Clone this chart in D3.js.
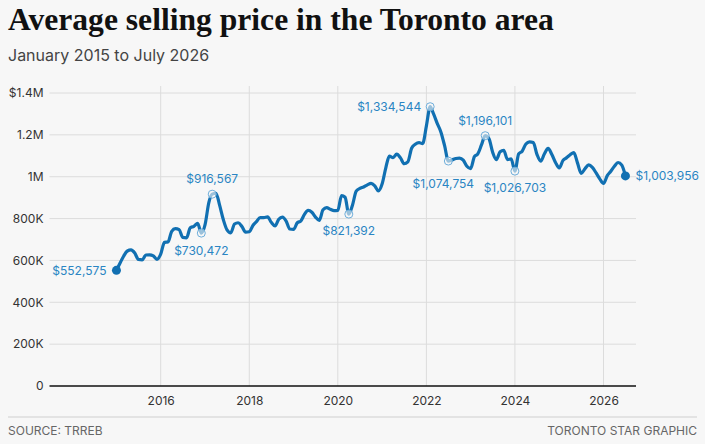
<!DOCTYPE html>
<html>
<head>
<meta charset="utf-8">
<script src="https://cdn.jsdelivr.net/npm/d3@7"></script>
<style>
body{margin:0;background:#f7f7f7;}
svg{display:block;font-family:Inter,"Noto Sans",sans-serif;}
</style>
</head>
<body>
<div id="chart"></div>
<script>
// average selling price, one value per month, Jan 2015 - Jul 2026
var price2015 = [552575, 589000, 620000, 645000, 650000, 635000, 605000, 603000, 626000, 627000, 622000, 605000];
var price2016 = [630000, 686000, 688000, 739000, 752000, 747000, 710000, 708000, 756000, 763000, 777000, 730472];
var price2017 = [771000, 876000, 916567, 921000, 864000, 794000, 746000, 732000, 774000, 780000, 762000, 735000];
var price2018 = [737000, 768000, 785000, 805000, 805000, 808000, 782000, 765000, 797000, 807000, 788000, 750000];
var price2019 = [748000, 780000, 788000, 820000, 839000, 830000, 807000, 791000, 842000, 852000, 844000, 838000];
var price2020 = [839000, 910000, 902000, 821392, 864000, 931000, 944000, 951000, 961000, 968000, 956000, 932000];
var price2021 = [966000, 1045000, 1098000, 1091000, 1108000, 1090000, 1062000, 1071000, 1136000, 1155000, 1163000, 1158000];
var price2022 = [1243000, 1334544, 1300000, 1254000, 1213000, 1146000, 1074754, 1080000, 1087000, 1089000, 1079000, 1050000];
var price2023 = [1039000, 1096000, 1109000, 1153000, 1196101, 1182000, 1118000, 1082000, 1119000, 1126000, 1082000, 1085000];
var price2024 = [1026703, 1109000, 1122000, 1156000, 1166000, 1163000, 1107000, 1074000, 1110000, 1135000, 1106000, 1068000];
var price2025 = [1042000, 1078000, 1090000, 1105000, 1115000, 1065000, 1016000, 1038000, 1057000, 1045000, 1018000, 990000];
var price2026 = [968000, 1005000, 1025000, 1050000, 1068000, 1055000, 1003956];

var yTicks = [0, 200000, 400000, 600000, 800000, 1000000, 1200000, 1400000];
var yTickLabels = ["0", "200K", "400K", "600K", "800K", "1M", "1.2M", "$1.4M"];
var xTickYears = [2016, 2018, 2020, 2022, 2024, 2026];
var labelledMonths = ["2015-01", "2016-12", "2017-03", "2020-04", "2022-02", "2022-07", "2023-05", "2024-01", "2026-07"];

var W = 705, H = 444;
var blue = "#1170b2", labelBlue = "#2a85c3";

var prices = [].concat(price2015, price2016, price2017, price2018, price2019, price2020,
	price2021, price2022, price2023, price2024, price2025, price2026);
var data = prices.map(function(v, i){
	return {date: new Date(2015, i, 1), value: v};
});
var fmtMonth = d3.timeFormat("%Y-%m");
var fmtPrice = d3.format("$,");

var x = d3.scaleTime()
	.domain([new Date(2016, 0, 1), new Date(2026, 0, 1)])
	.range([160.7, 603.5]);
var y = d3.scaleLinear().domain([0, 1400000]).range([386, 93]);
var plotLeft = 49.5, plotRight = 636;

var svg = d3.select("#chart").append("svg")
	.attr("width", W).attr("height", H);

svg.append("rect").attr("width", W).attr("height", H).attr("fill", "#f7f7f7");

// title block
svg.append("text")
	.attr("x", 8).attr("y", 30)
	.attr("font-family", "'Liberation Serif', serif")
	.attr("font-weight", "bold")
	.attr("font-size", 31.6)
	.attr("fill", "#111")
	.text("Average selling price in the Toronto area");
svg.append("text")
	.attr("x", 8).attr("y", 61)
	.attr("font-size", 16)
	.attr("fill", "#444")
	.text("January 2015 to July 2026");

// grid
var gridEl = svg.append("g").attr("class", "grid");
gridEl.selectAll(".hgrid").data(yTicks.slice(1)).enter()
	.append("line").attr("class", "hgrid")
	.attr("x1", plotLeft).attr("x2", plotRight)
	.attr("y1", function(d){ return y(d); })
	.attr("y2", function(d){ return y(d); })
	.attr("stroke", "#dcdcdc").attr("stroke-width", 1);
gridEl.selectAll(".vgrid").data(xTickYears).enter()
	.append("line").attr("class", "vgrid")
	.attr("x1", function(d){ return x(new Date(d, 0, 1)); })
	.attr("x2", function(d){ return x(new Date(d, 0, 1)); })
	.attr("y1", 86).attr("y2", y(0))
	.attr("stroke", "#dcdcdc").attr("stroke-width", 1);

// y axis labels
var yAxis = d3.axisLeft(y)
	.tickValues(yTicks)
	.tickSize(0)
	.tickPadding(6)
	.tickFormat(function(d, i){ return yTickLabels[i]; });
var yAxisEl = svg.append("g")
	.attr("transform", "translate(" + plotLeft + ",0)")
	.call(yAxis);
yAxisEl.select(".domain").remove();
yAxisEl.selectAll("text")
	.attr("font-family", "Inter, sans-serif")
	.attr("font-size", 12)
	.attr("fill", "#333");

// x axis labels
var xAxis = d3.axisBottom(x)
	.tickValues(xTickYears.map(function(d){ return new Date(d, 0, 1); }))
	.tickSize(0)
	.tickPadding(10)
	.tickFormat(d3.timeFormat("%Y"));
var xAxisEl = svg.append("g")
	.attr("transform", "translate(0," + y(0) + ")")
	.call(xAxis);
xAxisEl.select(".domain").remove();
xAxisEl.selectAll("text")
	.attr("font-family", "Inter, sans-serif")
	.attr("font-size", 12)
	.attr("fill", "#333");

// zero line
svg.append("line")
	.attr("x1", plotLeft).attr("x2", plotRight)
	.attr("y1", y(0)).attr("y2", y(0))
	.attr("stroke", "#111").attr("stroke-width", 1.5);

// price line
var line = d3.line()
	.x(function(d){ return x(d.date); })
	.y(function(d){ return y(d.value); })
	.curve(d3.curveMonotoneX);
svg.append("path")
	.datum(data)
	.attr("fill", "none")
	.attr("stroke", blue)
	.attr("stroke-width", 3.2)
	.attr("stroke-linejoin", "round")
	.attr("stroke-linecap", "round")
	.attr("d", line);

// labelled points
var place = {
	"2015-01": {anchor: "end", dx: -10, dy: 0, dot: true},
	"2016-12": {anchor: "middle", dx: 0, dy: 18},
	"2017-03": {anchor: "middle", dx: 0, dy: -15},
	"2020-04": {anchor: "middle", dx: 0, dy: 17},
	"2022-02": {anchor: "end", dx: -9, dy: 0},
	"2022-07": {anchor: "middle", dx: -5, dy: 23},
	"2023-05": {anchor: "middle", dx: 0, dy: -15},
	"2024-01": {anchor: "middle", dx: 0, dy: 17},
	"2026-07": {anchor: "start", dx: 10, dy: 0, dot: true}
};
var marks = data.filter(function(d){
	return labelledMonths.indexOf(fmtMonth(d.date)) >= 0;
});
var markEl = svg.append("g").attr("class", "marks");
marks.forEach(function(d){
	var p = place[fmtMonth(d.date)];
	var cx = x(d.date), cy = y(d.value);
	if (p.dot) {
		markEl.append("circle")
			.attr("cx", cx).attr("cy", cy).attr("r", 4.5)
			.attr("fill", blue);
	} else {
		markEl.append("circle")
			.attr("cx", cx).attr("cy", cy).attr("r", 4)
			.attr("fill", "rgba(247,247,247,0.6)")
			.attr("stroke", "#6eaedb")
			.attr("stroke-width", 1);
	}
	markEl.append("text")
		.attr("x", cx + p.dx)
		.attr("y", cy + p.dy)
		.attr("dy", "0.35em")
		.attr("text-anchor", p.anchor)
		.attr("font-size", 12)
		.attr("fill", labelBlue)
		.text(fmtPrice(d.value));
});

// footer
svg.append("line")
	.attr("x1", 8).attr("x2", 697)
	.attr("y1", 417).attr("y2", 417)
	.attr("stroke", "#cfcfcf").attr("stroke-width", 1);
svg.append("text")
	.attr("x", 8).attr("y", 435)
	.attr("font-size", 12)
	.attr("fill", "#666")
	.text("SOURCE: TRREB");
svg.append("text")
	.attr("x", 697).attr("y", 435)
	.attr("text-anchor", "end")
	.attr("font-size", 12)
	.attr("fill", "#666")
	.text("TORONTO STAR GRAPHIC");
</script>
</body>
</html>
